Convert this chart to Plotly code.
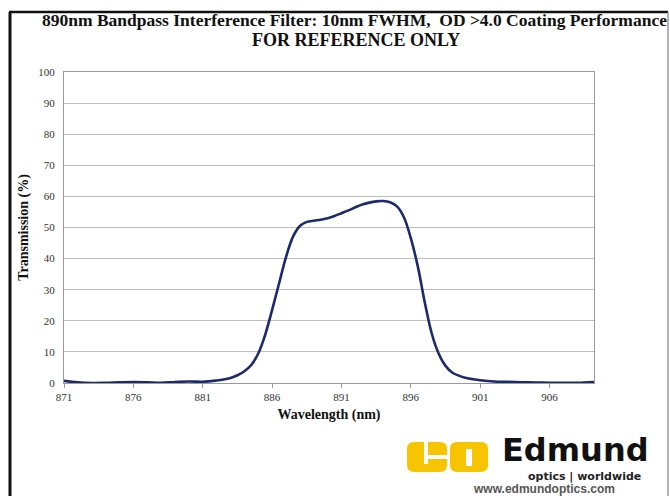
import plotly.graph_objects as go

# Measured transmission curve of the 890 nm bandpass filter
wavelength_nm = [871, 872, 873, 874, 875, 876, 877, 878, 879, 880, 881, 882,
                 882.5, 883, 883.5, 884, 884.5, 885, 885.5, 886, 886.5, 887,
                 887.5, 888, 888.5, 889, 889.5, 890, 890.5, 891, 891.5, 892,
                 892.5, 893, 893.5, 894, 894.5, 895, 895.5, 896, 896.5, 897,
                 897.5, 898, 898.5, 899, 899.5, 900, 900.5, 901, 902, 903, 904,
                 905, 906, 907, 908, 909.2]
transmission_pct = [0.7, 0.2, 0.0, 0.05, 0.2, 0.3, 0.2, 0.05, 0.3, 0.5, 0.4, 0.8,
                    1.1, 1.6, 2.5, 3.8, 5.8, 9.5, 15.5, 23.5, 32.0, 40.5,
                    47.0, 50.5, 51.8, 52.2, 52.5, 53.0, 53.7, 54.6, 55.5, 56.5,
                    57.4, 58.0, 58.4, 58.5, 58.1, 56.8, 53.3, 46.5, 37.5, 26.0,
                    16.0, 9.5, 5.5, 3.3, 2.3, 1.6, 1.2, 0.9, 0.5, 0.35, 0.25,
                    0.15, 0.1, 0.05, 0.05, 0.3]

x_ticks = [871, 876, 881, 886, 891, 896, 901, 906]
y_ticks = [0, 10, 20, 30, 40, 50, 60, 70, 80, 90, 100]

title_line1 = "890nm Bandpass Interference Filter: 10nm FWHM,  OD >4.0 Coating Performance"
title_line2 = "FOR REFERENCE ONLY"

W, H = 670, 496
L, R, T, B = 64, 76, 72, 113
PW, PH = W - L - R, H - T - B


def px(x):
    return (x - L) / PW


def py(y):
    return (H - B - y) / PH


def rounded_rect(x0, y0, x1, y1, r):
    """SVG path in paper units for a rectangle with rounded corners (pixel inputs)."""
    a, b, c, d = px(x0), px(x1), py(y0), py(y1)
    rx, ry = r / PW, r / PH
    pts = [
        f"M{a + rx},{c}", f"L{b - rx},{c}", f"Q{b},{c} {b},{c - ry}",
        f"L{b},{d + ry}", f"Q{b},{d} {b - rx},{d}", f"L{a + rx},{d}",
        f"Q{a},{d} {a},{d + ry}", f"L{a},{c - ry}", f"Q{a},{c} {a + rx},{c}",
    ]
    return " ".join(pts) + " Z"


SERIF = "Liberation Serif, Times New Roman, serif"
YELLOW = "#f7c400"

fig = go.Figure()
fig.add_trace(go.Scatter(
    x=wavelength_nm, y=transmission_pct, mode="lines",
    line=dict(color="#1c2a6b", width=2.6, shape="spline", smoothing=1.0),
    hoverinfo="skip", showlegend=False,
))

shapes = [
    # page frame
    dict(type="line", xref="paper", yref="paper", x0=px(10), x1=px(10), y0=py(12), y1=py(500),
         line=dict(color="#111111", width=3)),
    dict(type="line", xref="paper", yref="paper", x0=px(9), x1=px(668), y0=py(12), y1=py(12),
         line=dict(color="#111111", width=2.5)),
    dict(type="line", xref="paper", yref="paper", x0=px(668), x1=px(668), y0=py(12), y1=py(500),
         line=dict(color="#9a9a9a", width=1.5)),
    # logo blocks
    dict(type="path", xref="paper", yref="paper", path=rounded_rect(407, 442, 447, 472, 7),
         fillcolor=YELLOW, line=dict(width=0)),
    dict(type="path", xref="paper", yref="paper", path=rounded_rect(450, 442, 488, 472, 7),
         fillcolor=YELLOW, line=dict(width=0)),
    dict(type="rect", xref="paper", yref="paper", x0=px(424), x1=px(428), y0=py(442), y1=py(464),
         fillcolor="white", line=dict(width=0)),
    dict(type="rect", xref="paper", yref="paper", x0=px(428), x1=px(447), y0=py(455), y1=py(459),
         fillcolor="white", line=dict(width=0)),
    dict(type="rect", xref="paper", yref="paper", x0=px(466), x1=px(472), y0=py(449), y1=py(466),
         fillcolor="white", line=dict(width=0)),
]

annotations = [
    dict(text="<b>" + title_line1 + "</b>", xref="paper", yref="paper", x=px(354), y=py(20),
         xanchor="center", yanchor="middle", showarrow=False,
         font=dict(family=SERIF, size=17.5, color="#111111")),
    dict(text="<b>" + title_line2 + "</b>", xref="paper", yref="paper", x=px(356), y=py(40),
         xanchor="center", yanchor="middle", showarrow=False,
         font=dict(family=SERIF, size=18, color="#111111")),
    dict(text="<b>Edmund</b>", xref="paper", yref="paper", x=px(500), y=py(466),
         xanchor="left", yanchor="bottom", showarrow=False, height=29,
         font=dict(family="DejaVu Sans, sans-serif", size=32, color="#111111")),
    dict(text="<b>optics | worldwide</b>", xref="paper", yref="paper", x=px(584), y=py(476.5),
         xanchor="center", yanchor="middle", showarrow=False,
         font=dict(family="DejaVu Sans, sans-serif", size=11, color="#222222")),
    dict(text="<b>www.edmundoptics.com</b>", xref="paper", yref="paper", x=px(544), y=py(489),
         xanchor="center", yanchor="middle", showarrow=False,
         font=dict(family="Liberation Sans, Arial, sans-serif", size=12, color="#555555")),
]

fig.update_layout(
    width=W, height=H,
    margin=dict(l=L, r=R, t=T, b=B),
    paper_bgcolor="white", plot_bgcolor="white",
    shapes=shapes, annotations=annotations,
    xaxis=dict(
        range=[871, 909.2], tickmode="array", tickvals=x_ticks,
        ticktext=[str(v) for v in x_ticks],
        showgrid=False, zeroline=False,
        showline=True, linecolor="#9a9a9a", linewidth=1, mirror=True,
        ticks="outside", ticklen=4, tickcolor="#9a9a9a",
        tickfont=dict(family=SERIF, size=11, color="#333333"),
        title=dict(text="<b>Wavelength (nm)</b>", standoff=6,
                   font=dict(family=SERIF, size=14, color="#111111")),
    ),
    yaxis=dict(
        range=[0, 100], tickmode="array", tickvals=y_ticks,
        ticktext=[str(v) for v in y_ticks],
        showgrid=True, gridcolor="#bdbdbd", gridwidth=1, zeroline=False,
        showline=True, linecolor="#9a9a9a", linewidth=1, mirror=True,
        ticks="", ticklabelstandoff=6,
        tickfont=dict(family=SERIF, size=11, color="#333333"),
        title=dict(text="<b>Transmission (%)</b>", standoff=6,
                   font=dict(family=SERIF, size=14, color="#111111")),
    ),
)

fig.write_html("out.html")
